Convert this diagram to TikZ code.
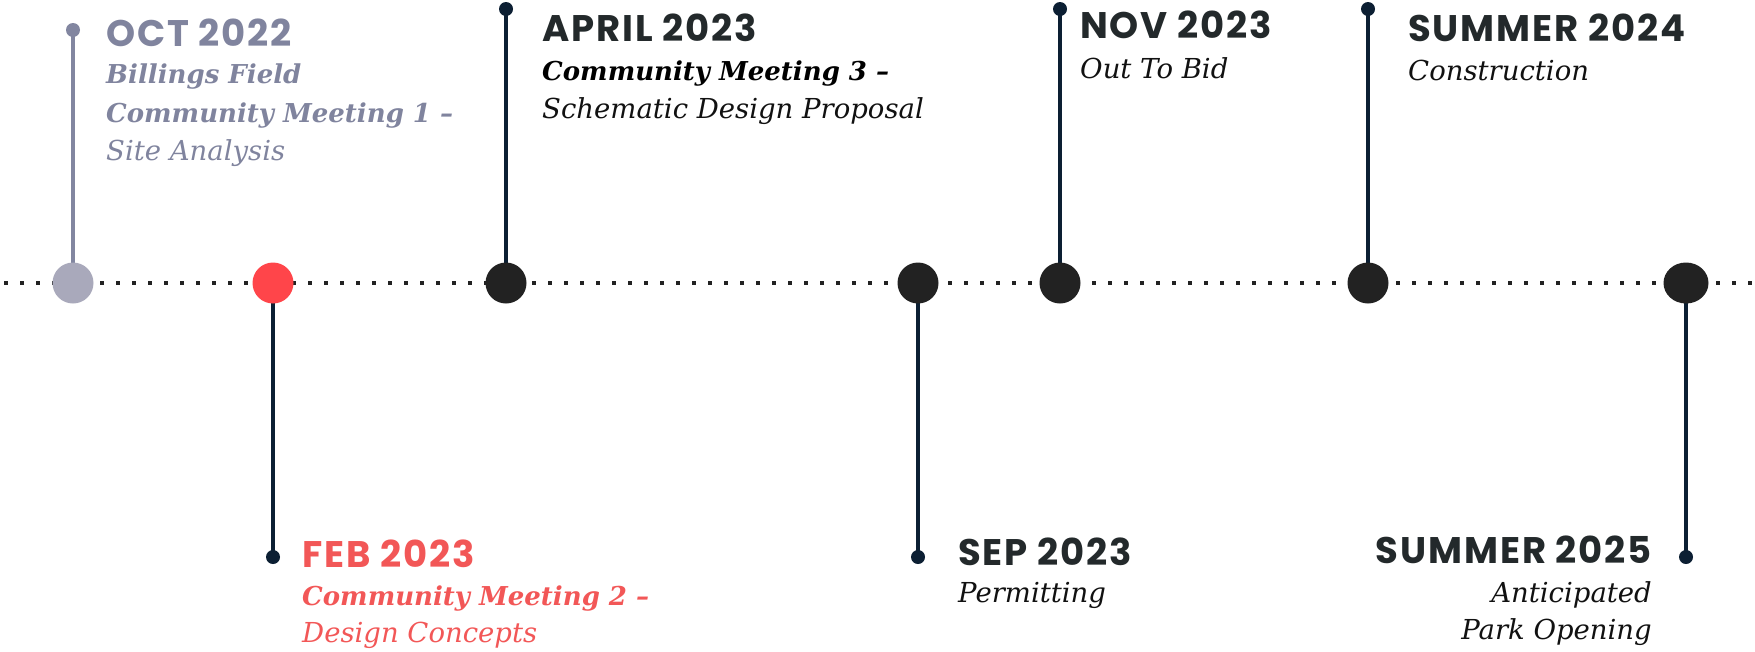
\documentclass[tikz,border=0pt]{standalone}
\usepackage{fontspec}
\usetikzlibrary{shapes.geometric}
\newfontfamily\headfont[LetterSpace=5]{Poppins}
\newfontfamily\bodyfont{DejaVu Serif}
\definecolor{grayTxt}{HTML}{80849E}
\definecolor{grayDot}{HTML}{A9A9BB}
\definecolor{grayStem}{HTML}{8286A0}
\definecolor{redDot}{HTML}{FF454A}
\definecolor{redTxt}{HTML}{F25757}
\definecolor{darkDot}{HTML}{222222}
\definecolor{headTxt}{HTML}{23292B}
\definecolor{bodyTxt}{HTML}{111111}
\definecolor{navy}{HTML}{0C1F33}
\tikzset{
  milestone/.style={circle, inner sep=0pt, minimum size=41pt, draw=none},
  enddot/.style={circle, inner sep=0pt, minimum size=14pt, fill=navy},
  stem/.style={line width=4pt, navy},
  head/.style={inner sep=0pt, font=\headfont\bfseries\fontsize{37}{37}\selectfont, text=headTxt},
  sub/.style={inner sep=0pt, font=\bodyfont\bfseries\itshape\fontsize{26}{26}\selectfont, text=bodyTxt},
  body/.style={inner sep=0pt, font=\bodyfont\itshape\fontsize{27.5}{27.5}\selectfont, text=bodyTxt},
}
\begin{document}
\begin{tikzpicture}[x=1pt,y=-1pt]
\useasboundingbox (0,0) rectangle (1755,651);
% timeline
\coordinate (L) at (0,283);
\coordinate (R) at (1755,283);
\draw[line width=3.5pt, darkDot, dash pattern=on 3.5pt off 12.5pt, dash phase=-4pt] (L) -- (R);

% OCT 2022
\node[enddot, fill=grayStem] (t1) at (73,30) {};
\node[milestone] (c1) at (73,283) {};
\draw[stem, grayStem] (c1.center) -- (t1.center);
\node[milestone, fill=grayDot] at (c1) {};
\node[head, anchor=base west, text=grayTxt] (h1) at (106,46) {OCT 2022};
\node[sub, anchor=base west, text=grayTxt] (s1a) at (106,83) {Billings Field};
\node[sub, anchor=base west, text=grayTxt] (s1b) at (106,122) {Community Meeting 1 –};
\node[body, anchor=base west, text=grayTxt] (s1c) at (106,160) {Site Analysis};

% FEB 2023
\node[enddot] (t2) at (273,557) {};
\node[milestone] (c2) at (273,283) {};
\draw[stem] (c2.center) -- (t2.center);
\node[milestone, fill=redDot] at (c2) {};
\node[head, anchor=base west, text=redTxt] (h2) at (302,567) {FEB 2023};
\node[sub, anchor=base west, text=redTxt] (s2a) at (302,605) {Community Meeting 2 –};
\node[body, anchor=base west, text=redTxt] (s2b) at (302,642) {Design Concepts};

% APRIL 2023
\node[enddot] (t3) at (506,9) {};
\node[milestone] (c3) at (506,283) {};
\draw[stem] (c3.center) -- (t3.center);
\node[milestone, fill=darkDot] at (c3) {};
\node[head, anchor=base west] (h3) at (542,41) {APRIL 2023};
\node[sub, anchor=base west, text=black] (s3a) at (542,80) {Community Meeting 3 –};
\node[body, anchor=base west] (s3b) at (542,118) {Schematic Design Proposal};

% SEP 2023
\node[enddot] (t4) at (918,557) {};
\node[milestone] (c4) at (918,283) {};
\draw[stem] (c4.center) -- (t4.center);
\node[milestone, fill=darkDot] at (c4) {};
\node[head, anchor=base west] (h4) at (958,565) {SEP 2023};
\node[body, anchor=base west] (s4a) at (958,602) {Permitting};

% NOV 2023
\node[enddot] (t5) at (1060,9) {};
\node[milestone] (c5) at (1060,283) {};
\draw[stem] (c5.center) -- (t5.center);
\node[milestone, fill=darkDot] at (c5) {};
\node[head, anchor=base west] (h5) at (1080,38) {NOV 2023};
\node[body, anchor=base west] (s5a) at (1080,78) {Out To Bid};

% SUMMER 2024
\node[enddot] (t6) at (1368,9) {};
\node[milestone] (c6) at (1368,283) {};
\draw[stem] (c6.center) -- (t6.center);
\node[milestone, fill=darkDot] at (c6) {};
\node[head, anchor=base west] (h6) at (1408,41) {SUMMER 2024};
\node[body, anchor=base west] (s6a) at (1408,80) {Construction};

% SUMMER 2025
\node[enddot] (t7) at (1686,557) {};
\node[milestone] (c7) at (1686,283) {};
\draw[stem] (c7.center) -- (t7.center);
\node[ellipse, inner sep=0pt, fill=darkDot, minimum width=45pt, minimum height=41pt] at (c7) {};
\node[head, anchor=base east] (h7) at (1652,563) {SUMMER 2025};
\node[body, anchor=base east] (s7a) at (1652,602) {Anticipated};
\node[body, anchor=base east] (s7b) at (1652,639) {Park Opening};
\end{tikzpicture}
\end{document}
